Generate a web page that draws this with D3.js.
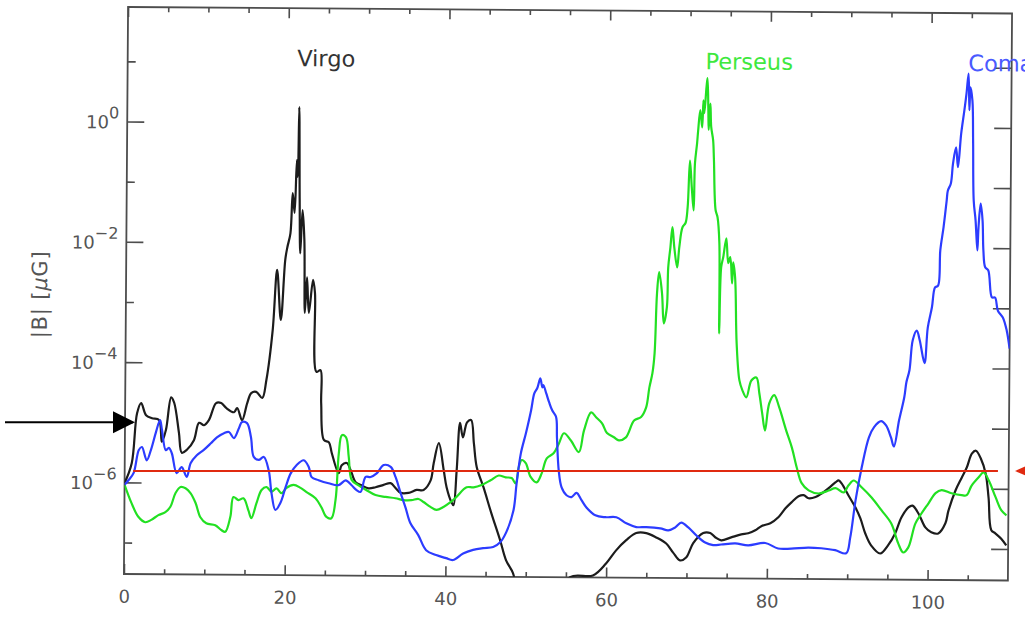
<!DOCTYPE html>
<html>
<head>
<meta charset="utf-8">
<script src="https://cdn.jsdelivr.net/npm/d3@7"></script>
<style>
  html, body { margin: 0; padding: 0; background: #fff; }
  svg { display: block; }
</style>
</head>
<body>
<svg id="chart" width="1025" height="637"></svg>
<script>
// ---- data: distance along the line of sight vs log10 |B| [muG] ----
const virgo = [
  [0,-6.01],[0.87,-5.68],[1.49,-4.85],[1.99,-4.68],[2.61,-4.88],[3.36,-4.93],[4.23,-4.96],[4.60,-5.32],
  [5.10,-5.12],[5.72,-4.58],[6.10,-4.67],[6.72,-5.17],[7.09,-5.50],[7.72,-5.45],[8.59,-5.29],[9.21,-5.00],
  [9.83,-5.04],[10.45,-4.95],[11.32,-4.67],[11.95,-4.67],[12.57,-4.75],[13.56,-4.82],[13.94,-4.75],[14.56,-4.95],
  [15.18,-4.67],[15.68,-4.50],[16.30,-4.48],[17.05,-4.58],[17.55,-4.28],[18.29,-3.45],[18.79,-2.45],[19.29,-3.28],
  [19.79,-2.28],[20.04,-2.07],[20.41,-1.84],[20.66,-1.17],[20.91,-1.50],[21.15,-0.62],[21.28,-0.90],[21.40,0.26],
  [21.53,-1.29],[21.65,-2.17],[21.90,-1.45],[22.15,-1.95],[22.27,-3.16],[22.52,-2.57],[22.77,-3.16],[23.27,-2.61],
  [23.52,-2.83],[23.77,-4.14],[24.27,-4.11],[24.39,-4.66],[24.76,-5.27],[25.39,-5.31],[25.76,-5.49],[26.63,-5.82],
  [27.00,-5.69],[27.63,-5.65],[28.12,-5.77],[28.75,-5.97],[29.49,-6.02],[30.36,-6.07],[31.23,-6.05],[32.23,-6.01],
  [33.10,-5.98],[33.72,-6.06],[34.35,-6.14],[35.34,-6.14],[36.34,-6.09],[37.21,-6.09],[38.08,-5.93],[38.45,-5.64],
  [39.07,-5.31],[39.70,-5.76],[40.07,-6.04],[40.69,-6.29],[40.94,-6.34],[41.31,-5.76],[41.69,-4.97],[42.06,-5.21],
  [42.56,-4.96],[43.06,-4.92],[43.43,-5.31],[43.80,-5.70],[44.67,-6.04],[45.67,-6.47],[46.79,-6.92],[47.54,-7.25],
  [48.41,-7.46],[49.30,-7.90],[52.00,-8.20],[55.50,-7.52],[58.36,-7.49],[59.98,-7.29],[61.22,-7.07],[62.47,-6.90],
  [63.71,-6.78],[64.96,-6.78],[66.20,-6.85],[67.45,-6.95],[68.32,-7.10],[69.19,-7.23],[69.94,-7.18],[70.81,-6.94],
  [72.05,-6.77],[72.92,-6.77],[73.54,-6.84],[74.29,-6.89],[75.53,-6.84],[76.78,-6.79],[77.65,-6.77],[78.52,-6.72],
  [79.27,-6.65],[80.39,-6.60],[81.38,-6.50],[82.26,-6.35],[83.00,-6.25],[83.87,-6.15],[84.50,-6.13],[85.12,-6.18],
  [85.99,-6.16],[86.74,-6.10],[87.61,-6.01],[88.48,-5.91],[88.85,-5.88],[89.22,-5.93],[90.09,-6.13],[90.97,-6.33],
  [91.59,-6.51],[92.21,-6.76],[92.96,-6.96],[94.08,-7.09],[95.07,-6.95],[95.94,-6.75],[96.69,-6.49],[97.56,-6.32],
  [98.06,-6.29],[98.81,-6.42],[99.68,-6.65],[100.42,-6.73],[101.29,-6.75],[102.17,-6.58],[102.54,-6.37],[103.41,-6.03],
  [104.16,-5.82],[104.78,-5.65],[105.40,-5.42],[105.90,-5.37],[106.52,-5.50],[107.14,-5.75],[107.52,-6.15],[107.89,-6.69],
  [108.39,-6.74],[109.13,-6.83],[109.76,-6.94]
];

const perseus = [
  [0,-6.04],[0.87,-6.34],[1.74,-6.57],[2.61,-6.66],[3.36,-6.62],[4.23,-6.54],[5.10,-6.49],[5.72,-6.40],
  [6.35,-6.17],[6.97,-6.07],[7.59,-6.09],[8.21,-6.17],[8.84,-6.33],[9.46,-6.57],[10.20,-6.67],[11.32,-6.70],
  [12.07,-6.78],[12.57,-6.81],[13.19,-6.56],[13.56,-6.23],[14.19,-6.28],[14.81,-6.25],[15.43,-6.45],[15.80,-6.58],
  [16.43,-6.33],[17.05,-6.11],[17.67,-6.06],[18.29,-6.14],[18.91,-6.08],[19.54,-6.16],[20.16,-6.07],[21.03,-6.02],
  [21.90,-6.07],[22.65,-6.14],[23.77,-6.24],[24.51,-6.39],[25.14,-6.55],[25.76,-6.57],[26.26,-6.27],[26.63,-5.49],
  [27.00,-5.19],[27.50,-5.22],[27.87,-5.55],[28.25,-5.93],[29.12,-6.02],[30.11,-6.10],[31.23,-6.18],[32.48,-6.21],
  [33.72,-6.23],[34.72,-6.26],[35.71,-6.26],[36.59,-6.24],[37.21,-6.29],[38.08,-6.37],[38.83,-6.42],[39.70,-6.37],
  [40.57,-6.29],[41.31,-6.20],[42.56,-6.04],[43.43,-6.04],[44.43,-6.00],[45.54,-5.92],[46.54,-5.84],[47.41,-5.87],
  [48.16,-5.88],[48.66,-5.97],[49.03,-5.70],[49.40,-5.58],[49.90,-5.63],[50.52,-5.86],[51.27,-5.95],[51.89,-5.80],
  [52.51,-5.55],[53.38,-5.46],[54.01,-5.30],[54.63,-5.13],[55.50,-5.25],[56.50,-5.44],[57.12,-5.08],[57.99,-4.78],
  [58.61,-4.86],[59.36,-4.96],[59.98,-5.12],[60.85,-5.19],[61.47,-5.24],[62.34,-5.19],[63.34,-4.91],[64.21,-4.85],
  [64.83,-4.69],[65.21,-4.36],[65.58,-4.12],[65.83,-3.79],[66.08,-2.79],[66.33,-2.44],[66.70,-2.79],[66.95,-3.29],
  [67.32,-3.02],[67.45,-2.36],[67.70,-2.03],[67.94,-1.69],[68.19,-2.03],[68.56,-2.36],[68.81,-2.02],[69.19,-1.69],
  [69.56,-1.62],[69.81,-1.36],[70.06,-0.58],[70.31,-1.03],[70.56,-1.41],[70.68,-0.63],[70.93,-0.29],[71.05,-0.08],
  [71.30,0.26],[71.55,-0.03],[71.68,0.42],[71.80,0.21],[72.05,0.64],[72.17,0.79],[72.30,0.26],[72.36,-0.07],
  [72.55,0.37],[72.67,-0.02],[72.92,-0.24],[73.04,-0.57],[73.29,-1.40],[73.54,-1.52],[73.79,-1.95],[73.85,-3.45],
  [74.04,-2.35],[74.29,-2.18],[74.66,-1.87],[74.91,-2.28],[75.16,-2.18],[75.41,-2.62],[75.53,-2.27],[75.78,-2.52],
  [76.03,-3.61],[76.41,-4.23],[76.78,-4.39],[77.28,-4.51],[77.90,-4.23],[78.52,-4.18],[78.90,-4.44],[79.27,-4.77],
  [79.64,-5.06],[80.14,-4.61],[80.76,-4.47],[81.38,-4.67],[82.26,-5.05],[83.00,-5.34],[83.62,-5.67],[84.25,-5.93],
  [85.12,-6.05],[86.36,-6.10],[87.61,-6.05],[88.48,-6.01],[89.47,-6.08],[90.09,-5.96],[90.72,-5.88],[91.71,-5.99],
  [92.96,-6.16],[94.20,-6.37],[95.44,-6.59],[96.32,-6.92],[96.94,-7.07],[97.56,-6.99],[98.43,-6.59],[99.18,-6.42],
  [100.05,-6.25],[100.92,-6.08],[101.67,-6.03],[102.91,-6.08],[104.16,-6.11],[104.78,-6.11],[105.40,-5.95],[106.27,-5.81],
  [106.89,-5.73],[107.52,-5.86],[108.39,-6.14],[109.13,-6.36],[109.76,-6.44]
];

const coma = [
  [0,-6.04],[0.50,-5.96],[1.12,-5.84],[1.74,-5.46],[2.12,-5.41],[2.74,-5.63],[3.24,-5.46],[3.86,-5.16],
  [4.36,-4.96],[4.60,-5.12],[5.10,-5.46],[5.48,-5.42],[5.85,-5.51],[6.47,-5.84],[7.09,-5.74],[7.72,-5.90],
  [8.21,-5.67],[8.96,-5.54],[9.83,-5.45],[10.70,-5.34],[11.45,-5.24],[12.32,-5.17],[12.94,-5.15],[13.56,-5.25],
  [14.19,-5.08],[14.56,-4.98],[15.18,-5.00],[15.68,-5.23],[16.05,-5.56],[16.67,-5.61],[17.30,-5.56],[17.92,-5.78],
  [18.29,-6.16],[18.79,-6.44],[19.41,-6.32],[20.04,-6.06],[20.66,-5.83],[21.40,-5.69],[22.27,-5.61],[22.90,-5.72],
  [23.27,-5.89],[24.14,-5.94],[25.39,-5.99],[26.63,-6.02],[27.50,-5.94],[28.25,-6.02],[28.87,-6.10],[29.37,-6.13],
  [29.99,-5.88],[30.61,-5.88],[31.36,-5.82],[32.23,-5.68],[33.10,-5.71],[33.72,-5.88],[34.35,-6.14],[34.97,-6.38],
  [35.59,-6.64],[36.59,-6.84],[37.58,-7.09],[38.83,-7.17],[40.07,-7.22],[40.94,-7.25],[42.19,-7.14],[43.43,-7.08],
  [44.67,-7.05],[45.92,-7.03],[46.79,-6.95],[47.54,-6.78],[48.41,-6.42],[48.78,-5.97],[49.28,-5.47],[49.90,-5.13],
  [50.52,-4.75],[50.90,-4.47],[51.27,-4.38],[51.64,-4.22],[51.89,-4.37],[52.02,-4.33],[52.39,-4.47],[52.76,-4.62],
  [53.14,-4.75],[53.63,-4.86],[53.76,-5.20],[54.01,-5.75],[54.38,-6.03],[55.00,-6.16],[55.62,-6.19],[56.25,-6.12],
  [56.87,-6.24],[57.49,-6.36],[58.61,-6.49],[59.86,-6.52],[61.22,-6.52],[62.47,-6.62],[63.71,-6.68],[64.96,-6.68],
  [66.70,-6.70],[67.70,-6.73],[68.57,-6.68],[69.31,-6.60],[70.18,-6.68],[71.18,-6.81],[72.30,-6.93],[73.29,-6.97],
  [74.29,-6.96],[76.03,-6.94],[77.65,-6.97],[79.77,-6.93],[81.38,-7.02],[83.00,-7.02],[85.12,-7.00],[86.74,-7.01],
  [88.48,-7.04],[89.85,-7.09],[90.34,-6.83],[90.97,-6.21],[91.71,-5.66],[92.58,-5.16],[93.21,-4.99],[94.08,-4.89],
  [94.70,-4.96],[95.32,-5.16],[95.69,-5.31],[96.32,-4.87],[96.94,-4.49],[97.19,-4.24],[97.56,-4.04],[97.94,-3.54],
  [98.43,-3.38],[98.81,-3.54],[99.43,-3.92],[99.80,-3.33],[100.30,-2.99],[100.67,-2.66],[101.04,-2.63],[101.29,-2.04],
  [101.67,-1.66],[102.04,-1.21],[102.17,-1.05],[102.54,-0.93],[102.79,-0.60],[103.16,-0.33],[103.41,-0.66],[103.78,-0.10],
  [104.16,0.29],[104.41,0.57],[104.65,0.90],[104.78,0.29],[104.90,0.67],[105.15,0.45],[105.27,-0.21],[105.40,-1.21],
  [105.65,-1.54],[105.90,-2.04],[106.02,-1.66],[106.27,-1.26],[106.52,-1.54],[106.65,-2.04],[106.89,-2.32],[107.27,-2.37],
  [107.76,-2.82],[108.14,-2.82],[108.51,-3.04],[109.13,-3.15],[109.63,-3.37],[110.00,-3.67]
];

const seriesNames  = ["Virgo", "Perseus", "Coma"];
const seriesData   = [virgo, perseus, coma];
const seriesColors = ["#1c1c1c", "#22e022", "#2c3cff"];
const labelColors  = ["#333333", "#3ee83e", "#4a5aff"];
const labelX       = [21.1, 71.9, 104.6];   // label anchor, in distance units
const labelB       = [8.7, 8.7, 8.7];       // label baseline level [muG]

const xMajorTicks  = [0, 20, 40, 60, 80, 100];
const xTickLabels  = ["0", "20", "40", "60", "80", "100"];
const xMinorTicks  = [5, 10, 15, 25, 30, 35, 45, 50, 55, 65, 70, 75, 85, 90, 95, 105];
const yMajorExps   = [0, -2, -4, -6];
const yMinorExps   = [1, -1, -3, -5, -7];

const thresholdB   = 1.55e-6;  // red reference level [muG]
const arrowB       = 1e-5;     // level marked by the black arrow [muG]

// ---- layout ----
const svg = d3.select("#chart");
const L = 126, R = 1010, T = 7, B = 574;
const x = d3.scaleLinear().domain([0, 110]).range([L, R]);
const y = d3.scaleLog().domain([3e-8, 80]).range([B, T]);
const FONT = "'DejaVu Sans', 'Liberation Sans', sans-serif";
const AXIS_GREY = "#4d4d4d";

svg.append("rect").attr("width", 1025).attr("height", 637).attr("fill", "#fff");

// the plotted frame sits at a very slight tilt
const plot = svg.append("g").attr("transform", `rotate(0.42, ${L}, 290)`);

svg.append("defs").append("clipPath").attr("id", "plotClip")
  .append("rect").attr("x", L).attr("y", T).attr("width", R - L).attr("height", B - T);

function styleAxis(g) {
  g.select(".domain").remove();
  g.selectAll(".tick line").attr("stroke", AXIS_GREY).attr("stroke-width", 1.6);
  g.attr("font-family", FONT).attr("font-size", 18);
  g.selectAll(".tick text").attr("fill", "#555");
}

// bottom axis
plot.append("g").attr("transform", `translate(0,${B})`)
  .call(d3.axisBottom(x).tickValues(xMajorTicks).tickSize(-10).tickPadding(16)
        .tickFormat((d, i) => xTickLabels[i]))
  .call(styleAxis);
plot.append("g").attr("transform", `translate(0,${B})`)
  .call(d3.axisBottom(x).tickValues(xMinorTicks).tickSize(-5).tickFormat(""))
  .call(styleAxis);
// top axis
plot.append("g").attr("transform", `translate(0,${T})`)
  .call(d3.axisTop(x).tickValues(xMajorTicks).tickSize(-10).tickFormat(""))
  .call(styleAxis);
plot.append("g").attr("transform", `translate(0,${T})`)
  .call(d3.axisTop(x).tickValues(xMinorTicks).tickSize(-5).tickFormat(""))
  .call(styleAxis);
// left axis
plot.append("g").attr("transform", `translate(${L},0)`)
  .call(d3.axisLeft(y).tickValues(yMajorExps.map(e => Math.pow(10, e))).tickSize(-17).tickFormat(""))
  .call(styleAxis);
plot.append("g").attr("transform", `translate(${L},0)`)
  .call(d3.axisLeft(y).tickValues(yMinorExps.map(e => Math.pow(10, e))).tickSize(-8).tickFormat(""))
  .call(styleAxis);
// right axis
plot.append("g").attr("transform", `translate(${R},0)`)
  .call(d3.axisRight(y).tickValues(yMajorExps.concat(yMinorExps).map(e => Math.pow(10, e)))
        .tickSize(-17).tickFormat(""))
  .call(styleAxis);

// frame
plot.append("rect")
  .attr("x", L).attr("y", T).attr("width", R - L).attr("height", B - T)
  .attr("fill", "none").attr("stroke", AXIS_GREY).attr("stroke-width", 1.8);

// y tick labels 10^n
yMajorExps.forEach(e => {
  const t = plot.append("text")
    .attr("x", L - 8).attr("y", y(Math.pow(10, e)) + 7)
    .attr("text-anchor", "end")
    .attr("font-family", FONT).attr("font-size", 18).attr("fill", "#555");
  t.append("tspan").text("10");
  t.append("tspan").attr("dy", -10).attr("font-size", 16)
    .text(e === 0 ? "0" : "\u2212" + Math.abs(e));
});

// y axis title
const yt = plot.append("text")
  .attr("transform", "translate(47,295) rotate(-90)")
  .attr("text-anchor", "middle")
  .attr("font-family", FONT).attr("font-size", 21).attr("fill", "#555")
  .attr("letter-spacing", 0.8);
yt.append("tspan").text("|B| [");
yt.append("tspan").attr("font-style", "italic").text("\u03bc");
yt.append("tspan").text("G]");

// curves
const line = d3.line()
  .x(d => x(d[0]))
  .y(d => y(Math.pow(10, d[1])))
  .curve(d3.curveCatmullRom.alpha(0.5));

const curves = plot.append("g").attr("clip-path", "url(#plotClip)");
seriesData.forEach((data, i) => {
  curves.append("path")
    .datum(data)
    .attr("d", line)
    .attr("fill", "none")
    .attr("stroke", seriesColors[i])
    .attr("stroke-width", 2.2)
    .attr("stroke-linejoin", "round");
});

// cluster names
seriesNames.forEach((name, i) => {
  plot.append("text")
    .attr("x", x(labelX[i])).attr("y", y(labelB[i]))
    .attr("font-family", FONT).attr("font-size", 22.5)
    .attr("fill", labelColors[i])
    .text(name);
});

// horizontal reference level and arrows (drawn level on the page)
const yRef = y(thresholdB);
svg.append("line")
  .attr("x1", x(0.9)).attr("x2", x(108.5))
  .attr("y1", yRef).attr("y2", yRef)
  .attr("stroke", "#e02a10").attr("stroke-width", 2);
svg.append("path")
  .attr("d", `M1015,${yRef} L1031,${yRef - 7} L1031,${yRef + 7} Z`)
  .attr("fill", "#e02a10");

const yArr = y(arrowB);
svg.append("line")
  .attr("x1", 5).attr("x2", 116).attr("y1", yArr).attr("y2", yArr)
  .attr("stroke", "#000").attr("stroke-width", 2);
svg.append("path")
  .attr("d", `M135,${yArr} L113,${yArr - 11} L113,${yArr + 11} Z`)
  .attr("fill", "#000");
</script>
</body>
</html>
